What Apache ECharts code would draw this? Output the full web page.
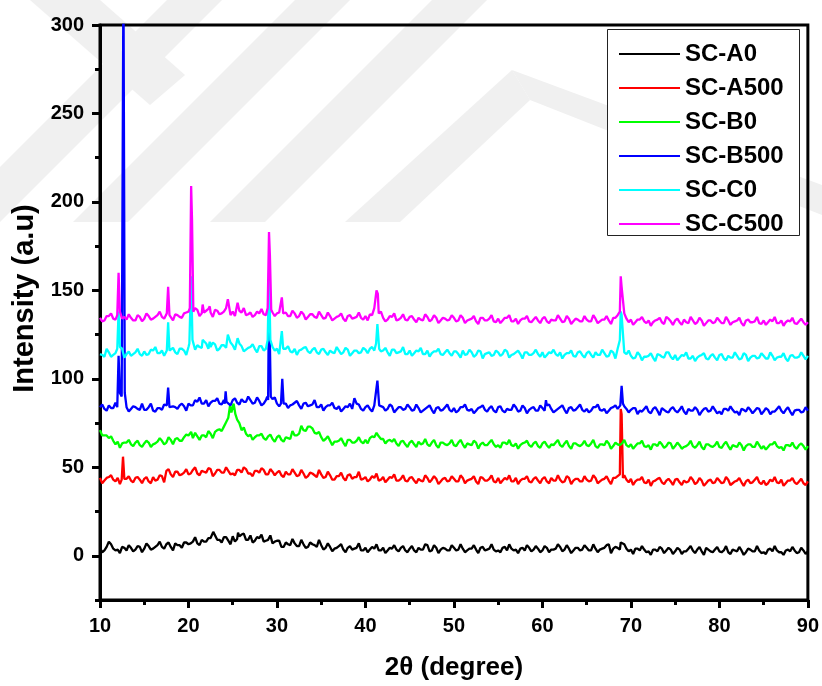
<!DOCTYPE html>
<html>
<head>
<meta charset="utf-8">
<script src="https://cdn.jsdelivr.net/npm/echarts@6/dist/echarts.min.js"></script>
<style>
  html, body { margin: 0; padding: 0; background: #ffffff; }
  #chart { width: 822px; height: 686px; }
</style>
</head>
<body>
<div id="chart"></div>
<script>
// 2θ sampling of the diffractograms (degrees): main grid 10, 10.5 … 90,
// intermediate grid 10.25, 10.75 … 89.75
const twoThetaStart = 10;
const twoThetaStep = 0.5;

// Axis ticks
const xTicks = [10, 20, 30, 40, 50, 60, 70, 80, 90];
const yTicks = [0, 50, 100, 150, 200, 250, 300];
const yMinorTicks = [-25, 25, 75, 125, 175, 225, 275];

const sampleNames = ['SC-A0', 'SC-A500', 'SC-B0', 'SC-B500', 'SC-C0', 'SC-C500'];
const sampleColors = ['#000000', '#ff0000', '#00ff00', '#0000ff', '#00ffff', '#ff00ff'];

// ---- SC-A0 ----
const scA0 = [
  4.5, 3, 8, 4, 3.5, 5, 3, 4.5, 3.5, 5,
  4, 5.5, 4, 6, 5, 6.5, 5, 7, 6, 7.5,
  6.5, 8, 7, 9, 8, 10, 12.5, 9, 10.5, 8.5,
  11, 9.5, 12, 9, 11.5, 8.5, 10, 8, 9, 7,
  8.5, 5, 7.5, 6, 7, 5.5, 6.5, 5, 6.5, 5,
  6, 4.5, 5, 4, 5.5, 3.5, 4.5, 3.5, 4.5, 3,
  4.5, 3.5, 4, 3, 4.5, 3, 4, 3.5, 4.5, 3,
  4, 3, 4.5, 3.5, 6, 3, 4.5, 3.5, 4, 3,
  4.5, 3.5, 4, 3, 4, 3.5, 4.5, 3, 4, 3.5,
  3, 4.5, 3, 4, 3.5, 4, 3, 4.5, 3.5, 4,
  3, 4.5, 3.5, 4, 5, 3.5, 4, 3, 4.5, 3.5,
  4.5, 3, 4, 3.5, 4.5, 6.5, 4, 4.5, 7, 4,
  3.5, 4, 3, 3.5, 2.5, 3.5, 2.5, 4, 3, 3.5,
  2.5, 3.5, 2.5, 4, 3, 3.5, 2.5, 4.5, 2.5, 3.5,
  2.5, 3, 2, 3.5, 2.5, 3, 2, 3.5, 2.5, 3,
  2, 3.5, 2.5, 3, 2, 3, 2.5, 3, 2, 3,
  2.5
];
const scA0Mid = [
  2, 5, 6.5, 3, 1.5, 4.5, 6, 2.5, 5.5, 2,
  7, 3.5, 5, 8, 4, 7.5, 3, 6, 4.5, 7.5,
  7, 10.5, 6, 8, 10, 5.5, 9, 7.5, 10.5, 6.5,
  8, 11, 12.5, 9, 7.5, 10.5, 12, 8.5, 11.5, 8,
  8.5, 5, 6.5, 9.5, 5.5, 9, 4.5, 7.5, 6, 9,
  3.5, 7, 2.5, 4.5, 6.5, 2, 5.5, 4, 7, 3,
  2, 5, 6.5, 3, 1.5, 4.5, 6, 2.5, 5.5, 2,
  5.5, 2, 3.5, 6.5, 2.5, 6, 1.5, 4.5, 3, 6,
  3, 6.5, 2, 4, 6, 1.5, 5, 3.5, 6.5, 2.5,
  2, 5, 6.5, 3, 1.5, 4.5, 6, 2.5, 5.5, 2,
  5.5, 2, 3.5, 6.5, 2.5, 6, 1.5, 4.5, 3, 6,
  3, 6.5, 2, 4, 6, 1.5, 5, 3.5, 6.5, 2.5,
  1, 4, 5.5, 2, 0.5, 3.5, 5, 1.5, 4.5, 1,
  4.5, 1, 2.5, 5.5, 1.5, 5, 0.5, 3.5, 2, 5,
  2, 5.5, 1, 3, 5, 0.5, 4, 2.5, 5.5, 1.5,
  1, 4, 5.5, 2, 0.5, 3.5, 5, 1.5, 4.5, 1
];
const scA0Peaks = [[22.8, 13.5], [25.6, 13], [68.85, 7.5]];

// ---- SC-A500 ----
const scA500 = [
  44, 42.5, 44.5, 43, 44, 42, 43.5, 42.5, 44, 43,
  43.5, 42, 44.5, 43, 45, 48, 46, 47.5, 45.5, 47,
  46, 48.5, 46.5, 48, 47, 49, 46.5, 48.5, 47, 48,
  46.5, 48.5, 47, 49, 46.5, 48, 47, 48.5, 46, 47.5,
  47, 45.5, 47.5, 46, 47, 45.5, 46.5, 45, 46.5, 44.5,
  46, 44.5, 45.5, 43, 45, 44, 45.5, 43.5, 44.5, 43,
  44.5, 43, 44, 42.5, 44.5, 43, 44, 42.5, 43.5, 42.5,
  44, 42.5, 43.5, 42, 44, 43, 43.5, 42, 44, 42.5,
  43.5, 42, 44, 42.5, 43.5, 42, 44.5, 42.5, 43.5, 42,
  44, 42.5, 43, 42, 44, 42.5, 43.5, 42, 43.5, 42.5,
  43.5, 42, 44, 42.5, 43, 42, 44, 42.5, 43.5, 42,
  43, 42.5, 44, 42, 43.5, 42.5, 44, 45, 44, 43,
  43.5, 42, 43, 41.5, 43, 42, 43.5, 41.5, 42.5, 42,
  43, 41.5, 42.5, 42, 43, 41.5, 42.5, 41, 43, 41.5,
  42.5, 41.5, 43, 41, 42.5, 41.5, 42, 41, 43, 41.5,
  42.5, 41, 42, 41.5, 43, 41, 42.5, 41.5, 42, 41,
  42
];
const scA500Mid = [
  41, 44, 45.5, 42, 40.5, 43.5, 45, 41.5, 44.5, 41,
  44.5, 41, 42.5, 45.5, 41.5, 49, 44.5, 47.5, 46, 49,
  46.5, 50, 45.5, 47.5, 49.5, 45, 48.5, 47, 50, 46,
  45.5, 48.5, 50, 46.5, 45, 48, 49.5, 46, 49, 45.5,
  48, 44.5, 46, 49, 45, 48.5, 44, 47, 45.5, 48.5,
  44, 47.5, 43, 45, 47, 42.5, 46, 44.5, 47.5, 43.5,
  42, 45, 46.5, 43, 41.5, 44.5, 46, 42.5, 45.5, 42,
  44.5, 41, 42.5, 45.5, 41.5, 45, 40.5, 43.5, 42, 45,
  42, 45.5, 41, 43, 45, 40.5, 44, 42.5, 45.5, 41.5,
  41, 44, 45.5, 42, 40.5, 43.5, 45, 41.5, 44.5, 41,
  44.5, 41, 42.5, 45.5, 41.5, 45, 40.5, 43.5, 42, 45,
  42, 45.5, 41, 43, 45, 40.5, 44, 42.5, 45.5, 41.5,
  40, 43, 44.5, 41, 39.5, 42.5, 44, 40.5, 43.5, 40,
  43.5, 40, 41.5, 44.5, 40.5, 44, 39.5, 42.5, 41, 44,
  41, 44.5, 40, 42, 44, 39.5, 43, 41.5, 44.5, 40.5,
  40, 43, 44.5, 41, 39.5, 42.5, 44, 40.5, 43.5, 40
];
const scA500Peaks = [[12.45, 43], [12.6, 56], [12.75, 43.5], [17.6, 49], [68.75, 46], [68.85, 83], [68.95, 80], [69.1, 44]];

// ---- SC-B0 ----
const scB0 = [
  71, 68, 66.5, 65, 64.5, 63.5, 64, 63, 64, 62.5,
  63.5, 64, 63, 64.5, 65, 64, 65.5, 66, 65, 67,
  68, 66.5, 67.5, 68, 67, 69, 70, 71.5, 73, 78,
  84, 77, 71, 69, 68.5, 67, 68, 66.5, 67.5, 66,
  67, 65.5, 67, 66, 68, 69, 71, 73, 72, 69,
  67, 66, 65, 64.5, 65, 64, 65.5, 64, 65, 64.5,
  65.5, 66.5, 67, 67.5, 66, 65, 64.5, 63.5, 64.5, 63,
  64, 63, 64.5, 63.5, 63, 64, 62.5, 64, 63, 63.5,
  62.5, 64, 63, 63.5, 62.5, 64, 63, 62.5, 64, 63,
  62.5, 64, 63, 62.5, 63.5, 62.5, 64, 62.5, 63.5, 62,
  63.5, 62.5, 63, 64, 62.5, 63.5, 62, 63.5, 62.5, 63,
  62.5, 63.5, 62, 63, 62.5, 63.5, 62, 63, 63.5, 62.5,
  63, 62, 63.5, 62, 62.5, 63, 62, 63, 62, 63.5,
  62, 62.5, 61.5, 63, 62, 62.5, 61.5, 63, 62, 62.5,
  61.5, 63, 62, 62.5, 61.5, 62.5, 62, 63, 61.5, 62.5,
  62, 61.5, 63, 62, 61.5, 62.5, 62, 61.5, 62.5, 62,
  62
];
const scB0Mid = [
  68, 68, 67.5, 63, 61, 64, 65.5, 62, 65, 61.5,
  65, 61.5, 63.5, 66.5, 63, 67, 63, 66.5, 65, 68.5,
  66, 69.5, 65.5, 68, 70.5, 66.5, 71, 70.5, 75.5, 82,
  78, 75, 72.5, 67.5, 65.5, 68, 69, 65.5, 68.5, 64.5,
  68, 64.5, 66.5, 70.5, 68, 73.5, 70.5, 73, 69.5, 70,
  65, 67.5, 62.5, 64.5, 66.5, 62, 65.5, 64, 67, 63.5,
  63.5, 67.5, 69.5, 66, 63.5, 65.5, 66, 62, 65, 61.5,
  65, 61.5, 63, 66, 62, 65.5, 61, 64, 62.5, 65.5,
  62, 65.5, 61, 63, 65, 60.5, 64, 62.5, 65.5, 61.5,
  61, 64, 65.5, 62, 60.5, 63.5, 65, 61.5, 64.5, 61,
  64.5, 61, 62.5, 65.5, 61.5, 65, 60.5, 63.5, 62, 65,
  62, 65.5, 61, 63, 65, 60.5, 64, 62.5, 65.5, 61.5,
  60.5, 63.5, 65, 61.5, 60, 63, 64.5, 61, 64, 60.5,
  64, 60.5, 62, 65, 61, 64.5, 60, 63, 61.5, 64.5,
  61, 64.5, 60, 62, 64, 59.5, 63, 61.5, 64.5, 60.5,
  60, 63, 64.5, 61, 59.5, 62.5, 64, 60.5, 63.5, 60
];
const scB0Peaks = [[20.3, 70], [24.7, 85], [24.85, 81], [25.1, 86], [25.3, 80]];

// ---- SC-B500 ----
const scB500 = [
  84, 83, 85, 83.5, 85, 86, 84, 83, 84, 82.5,
  82.5, 84, 82, 83.5, 82.5, 84, 85, 84, 85, 84.5,
  86, 85, 87, 86, 88, 86.5, 87.5, 86, 88, 87,
  88, 86.5, 88.5, 87, 88, 86.5, 87.5, 86, 88, 88.5,
  86, 85, 86, 85, 86.5, 85, 86, 84.5, 85.5, 84,
  85.5, 84, 85, 83.5, 84.5, 83, 84, 83, 86, 83,
  84, 83, 85, 82.5, 84, 83, 84.5, 82.5, 84, 83,
  84, 82.5, 83.5, 82, 84, 82.5, 83.5, 82, 84, 82.5,
  83.5, 82, 84, 82.5, 83, 82, 84, 82.5, 83.5, 82,
  84, 82, 83, 82.5, 84, 82, 83.5, 82.5, 84, 82,
  83.5, 85, 83, 82, 84, 82.5, 83.5, 82, 84, 82.5,
  83, 82, 84, 82.5, 83, 82, 84, 83, 84, 83,
  82.5, 83.5, 82, 83, 81.5, 83, 82, 83.5, 81.5, 83,
  82, 82.5, 81.5, 83, 82, 82.5, 81.5, 83.5, 82, 82.5,
  81.5, 83, 82, 82.5, 81.5, 83, 81.5, 82.5, 82, 83,
  81.5, 82.5, 81.5, 83, 82, 82.5, 81.5, 82, 82.5, 81.5,
  82
];
const scB500Mid = [
  85.5, 82, 83.5, 86.5, 82.5, 86, 81.5, 84.5, 83, 86,
  82.5, 86, 81.5, 83.5, 85.5, 81, 84.5, 83, 86, 82,
  85, 88, 89.5, 86, 84.5, 87.5, 89, 85.5, 88.5, 85,
  89, 85.5, 87, 90, 86, 89.5, 85, 88, 86.5, 89.5,
  84.5, 88, 83.5, 85.5, 87.5, 83, 86.5, 85, 88, 84,
  82, 85, 86.5, 83, 81.5, 84.5, 86, 82.5, 85.5, 82,
  85, 81.5, 83, 86, 82, 85.5, 81, 84, 82.5, 85.5,
  82, 85.5, 81, 83, 85, 80.5, 84, 82.5, 85.5, 81.5,
  81, 84, 85.5, 82, 80.5, 83.5, 85, 81.5, 84.5, 81,
  84.5, 81, 82.5, 85.5, 81.5, 85, 80.5, 83.5, 82, 85,
  82, 85.5, 81, 83, 85, 80.5, 84, 82.5, 85.5, 81.5,
  81, 84, 85.5, 82, 80.5, 83.5, 85, 81.5, 84.5, 81,
  83.5, 80, 81.5, 84.5, 80.5, 84, 79.5, 82.5, 81, 84,
  81, 84.5, 80, 82, 84, 79.5, 83, 81.5, 84.5, 80.5,
  80, 83, 84.5, 81, 79.5, 82.5, 84, 80.5, 83.5, 80,
  83.5, 80, 81.5, 84.5, 80.5, 84, 79.5, 82.5, 81, 84
];
const scB500Peaks = [
  [11.95, 84], [12.1, 113], [12.25, 92], [12.45, 90], [12.65, 330], [12.8, 92],
  [17.55, 85], [17.7, 95], [17.85, 84], [24.1, 86], [24.2, 93], [24.3, 87],
  [28.9, 90], [29.1, 150], [29.3, 90], [30.45, 86], [30.6, 100], [30.75, 86],
  [38.75, 89], [41.2, 86], [41.35, 99], [41.55, 85], [60.4, 88],
  [68.8, 85], [68.95, 96], [69.1, 86]
];

// ---- SC-C0 ----
const scC0 = [
  114, 112.5, 115, 113.5, 116, 117, 114, 113, 115, 114,
  115.5, 114, 116, 114.5, 116, 115, 116, 115, 117, 116,
  118, 117, 119, 117.5, 120, 118, 119.5, 117, 119, 118,
  119, 117, 118.5, 116.5, 118, 117, 118.5, 116, 117.5, 118,
  117, 116, 117, 115.5, 117, 116, 117.5, 115.5, 116.5, 115,
  116.5, 115, 116, 114.5, 116, 115, 116.5, 114.5, 116, 115,
  116.5, 117, 116, 114.5, 116, 115, 116.5, 114.5, 115.5, 114,
  116, 114.5, 115.5, 114, 116, 114.5, 115.5, 114, 115, 114.5,
  115.5, 114, 116, 114, 115, 113.5, 115.5, 114, 115, 113.5,
  115, 114, 115.5, 113.5, 115, 114, 115, 113.5, 114.5, 114,
  115, 113.5, 114.5, 114, 115, 113.5, 114.5, 113, 115, 113.5,
  114.5, 113.5, 115, 113.5, 114.5, 113, 115, 117, 125, 114,
  113, 112, 113.5, 112.5, 113, 112, 114, 112.5, 115, 112.5,
  113.5, 112, 113, 111.5, 113, 112, 113.5, 111.5, 113, 112,
  113.5, 111.5, 113, 112, 113, 111.5, 113.5, 112, 113, 112,
  113, 111.5, 113, 112, 112.5, 111.5, 113, 112, 112.5, 113,
  113
];
const scC0Mid = [
  113.5, 117, 112.5, 114.5, 116.5, 112, 115.5, 114, 117, 113,
  113.5, 116.5, 118, 114.5, 113, 116, 117.5, 114, 117, 113.5,
  120, 116.5, 118, 121, 117, 120.5, 116, 119, 117.5, 120.5,
  116.5, 120, 115.5, 117.5, 119.5, 115, 118.5, 117, 120, 116,
  114, 117, 118.5, 115, 113.5, 116.5, 118, 114.5, 117.5, 114,
  117, 113.5, 115, 118, 114, 117.5, 113, 116, 114.5, 117.5,
  114.5, 118, 113.5, 115.5, 117.5, 113, 116.5, 115, 118, 114,
  113, 116, 117.5, 114, 112.5, 115.5, 117, 113.5, 116.5, 113,
  115.5, 112, 113.5, 116.5, 112.5, 116, 111.5, 114.5, 113, 116,
  113, 116.5, 112, 114, 116, 111.5, 115, 113.5, 116.5, 112.5,
  112, 115, 116.5, 113, 111.5, 114.5, 116, 112.5, 115.5, 112,
  115.5, 112, 113.5, 116.5, 112.5, 116, 111.5, 122, 115, 116,
  111.5, 115, 110.5, 112.5, 114.5, 110, 113.5, 112, 115, 111,
  110.5, 113.5, 115, 111.5, 110, 113, 114.5, 111, 114, 110.5,
  114, 110.5, 112, 115, 111, 114.5, 110, 113, 111.5, 114.5,
  111.5, 115, 110.5, 112.5, 114.5, 110, 113.5, 112, 115, 111
];
const scC0Peaks = [
  [11.95, 117], [12.1, 138], [12.25, 118], [17.55, 116], [17.7, 132], [17.85, 116],
  [20.1, 120], [20.3, 158], [20.45, 122], [21.6, 122], [22.4, 121], [24.45, 125],
  [25.55, 123], [28.95, 122], [29.1, 160], [29.25, 122], [30.55, 127], [30.7, 117],
  [41.2, 120], [41.35, 131], [41.55, 117], [68.85, 138], [68.95, 136]
];

// ---- SC-C500 ----
const scC500 = [
  134.5, 133, 135.5, 134, 136, 134, 133.5, 134.5, 133, 135,
  134, 135.5, 134, 136, 135, 137, 135.5, 136.5, 135, 137,
  138, 137, 139, 137, 138.5, 137.5, 139, 136.5, 138, 137,
  138, 136.5, 137.5, 136, 137.5, 136, 137, 136.5, 138, 137.5,
  137, 136, 137.5, 135.5, 137, 135.5, 136.5, 135, 136.5, 134.5,
  136, 134.5, 135.5, 134, 135.5, 134, 135.5, 134, 135, 134.5,
  135.5, 136.5, 140, 137, 134.5, 133.5, 135, 133, 134.5, 133.5,
  135, 133.5, 134.5, 133, 135, 133.5, 134.5, 133, 134, 133.5,
  134.5, 133, 134.5, 133, 134, 132.5, 134.5, 133, 134, 132.5,
  134, 133, 134.5, 132.5, 134, 133, 134, 132.5, 133.5, 133,
  134, 132.5, 133.5, 133, 134, 132.5, 134, 132.5, 133.5, 132.5,
  133.5, 132.5, 134, 132.5, 133.5, 133, 134.5, 136, 145, 134,
  133.5, 132, 133.5, 132.5, 133, 132, 133.5, 132, 135, 132.5,
  133, 132, 133.5, 131.5, 133, 132, 133, 131.5, 133, 132,
  133, 131.5, 133, 132, 133, 131.5, 133, 132, 132.5, 131.5,
  133, 132, 132.5, 131.5, 133, 132, 132.5, 131.5, 132.5, 132,
  132
];
const scC500Mid = [
  132.5, 135.5, 137, 133.5, 132, 135, 136.5, 133, 136, 132.5,
  137, 133.5, 135, 138, 134, 137.5, 133, 136, 134.5, 137.5,
  136.5, 140, 135.5, 137.5, 139.5, 135, 138.5, 137, 140, 136,
  135.5, 138.5, 140, 136.5, 135, 138, 139.5, 136, 139, 135.5,
  137.5, 134, 135.5, 138.5, 134.5, 138, 133.5, 136.5, 135, 138,
  134, 137.5, 133, 135, 137, 132.5, 136, 134.5, 137.5, 133.5,
  133, 136, 138.5, 138, 132.5, 135.5, 137, 133.5, 136.5, 133,
  135.5, 132, 133.5, 136.5, 132.5, 136, 131.5, 134.5, 133, 136,
  132.5, 136, 131.5, 133.5, 135.5, 131, 134.5, 133, 136, 132,
  131.5, 134.5, 136, 132.5, 131, 134, 135.5, 132, 135, 131.5,
  135, 131.5, 133, 136, 132, 135.5, 131, 134, 132.5, 135.5,
  132.5, 136, 131.5, 133.5, 135.5, 131, 134.5, 138, 137, 132,
  130.5, 133.5, 135, 131.5, 130, 133, 134.5, 131, 134, 130.5,
  134, 130.5, 132, 135, 131, 134.5, 130, 133, 131.5, 134.5,
  131.5, 135, 130.5, 132.5, 134.5, 130, 133.5, 132, 135, 131,
  130.5, 133.5, 135, 131.5, 130, 133, 134.5, 131, 134, 130.5
];
const scC500Peaks = [
  [11.95, 136], [12.1, 160], [12.25, 138], [17.55, 137], [17.7, 152], [17.85, 136],
  [20.15, 140], [20.3, 209], [20.4, 190], [20.55, 138], [21.6, 142], [22.4, 141],
  [24.45, 145], [25.55, 143], [28.95, 140], [29.1, 183], [29.2, 170], [29.35, 139],
  [30.55, 146], [30.7, 137], [41.25, 150], [41.4, 148], [68.85, 158], [68.95, 152]
];

const gridValues = [scA0, scA500, scB0, scB500, scC0, scC500];
const midValues = [scA0Mid, scA500Mid, scB0Mid, scB500Mid, scC0Mid, scC500Mid];
const peakValues = [scA0Peaks, scA500Peaks, scB0Peaks, scB500Peaks, scC0Peaks, scC500Peaks];

// Merge both grids with the reflections into one sorted [2θ, I] list;
// a reflection replaces any grid sample lying right on it.
function buildPattern(values, mids, peaks) {
  const pts = [];
  values.forEach((v, i) => pts.push([twoThetaStart + i * twoThetaStep, v]));
  mids.forEach((v, i) => pts.push([twoThetaStart + twoThetaStep / 2 + i * twoThetaStep, v]));
  const kept = pts.filter(p => !peaks.some(q => Math.abs(q[0] - p[0]) < 0.08));
  return kept.concat(peaks).sort((a, b) => a[0] - b[0]);
}

const FONT = 'Arial, "Liberation Sans", Helvetica, sans-serif';
const chart = echarts.init(document.getElementById('chart'), null, { renderer: 'canvas' });

// Pale diagonal bands of the background emblem
const bandColor = '#f0f0f0';
const bands = [
  [[30, 0], [100, 0], [185, 75], [150, 105]],
  [[-55, 222], [0, 222], [222, 0], [167, 0]],
  [[73, 222], [128, 222], [350, 0], [295, 0]],
  [[210, 222], [265, 222], [487, 0], [432, 0]],
  [[345, 222], [400, 222], [530, 100], [512, 70]],
  [[512, 70], [530, 100], [822, 215], [822, 185]]
];

const series = sampleNames.map((name, k) => ({
  name: name,
  type: 'line',
  data: buildPattern(gridValues[k], midValues[k], peakValues[k]),
  symbol: 'none',
  showSymbol: false,
  animation: false,
  clip: true,
  lineStyle: { color: sampleColors[k], width: 2.3 },
  itemStyle: { color: sampleColors[k] },
  z: 3 + k
}));

chart.setOption({
  backgroundColor: '#ffffff',
  animation: false,
  graphic: bands.map(p => ({
    type: 'polygon', z: -10, silent: true,
    shape: { points: p },
    style: { fill: bandColor }
  })).concat([{
    type: 'rect', z: 20, silent: true,
    shape: { x: 607.5, y: 29.5, width: 192, height: 206 },
    style: { fill: '#ffffff', stroke: '#222', lineWidth: 1 }
  }]),
  grid: {
    left: 100, right: 14, top: 25, bottom: 86,
    show: true, borderColor: '#000', borderWidth: 3, backgroundColor: 'transparent'
  },
  legend: {
    data: sampleNames,
    orient: 'vertical',
    left: 614, top: 37,
    itemWidth: 61, itemHeight: 10, itemGap: 10,
    icon: 'path://M0,4 L61,4 L61,6 L0,6 Z',
    textStyle: { fontFamily: FONT, fontWeight: 'bold', fontSize: 24, color: '#000', lineHeight: 24, padding: [0, 0, 0, 0] },
    z: 21
  },
  xAxis: {
    type: 'value', min: 10, max: 90, interval: 10,
    name: '2θ (degree)', nameLocation: 'middle', nameGap: 55,
    nameTextStyle: { fontFamily: FONT, fontWeight: 'bold', fontSize: 26, color: '#000' },
    axisLine: { show: true, onZero: false, lineStyle: { color: '#000', width: 3 } },
    axisTick: { show: true, inside: false, length: 8, lineStyle: { color: '#000', width: 3 } },
    minorTick: { show: true, splitNumber: 2, length: 5, lineStyle: { color: '#000', width: 3 } },
    axisLabel: {
      margin: 16, fontFamily: FONT, fontWeight: 'bold', fontSize: 20, color: '#000',
      customValues: xTicks
    },
    splitLine: { show: false }
  },
  yAxis: [{
    type: 'value', min: -25, max: 300,
    name: 'Intensity (a.u)', nameLocation: 'middle', nameGap: 58,
    nameTextStyle: { fontFamily: FONT, fontWeight: 'bold', fontSize: 29, color: '#000', padding: [0, 0, 0, 28] },
    axisLine: { show: true, onZero: false, lineStyle: { color: '#000', width: 3 } },
    axisTick: { show: true, inside: false, length: 8, lineStyle: { color: '#000', width: 3 }, customValues: yTicks },
    axisLabel: {
      margin: 16, fontFamily: FONT, fontWeight: 'bold', fontSize: 20, color: '#000',
      customValues: yTicks
    },
    splitLine: { show: false }
  }, {
    type: 'value', min: -25, max: 300, position: 'left',
    axisLine: { show: false },
    axisTick: { show: true, inside: false, length: 5, lineStyle: { color: '#000', width: 3 }, customValues: yMinorTicks },
    axisLabel: { show: false },
    splitLine: { show: false }
  }],
  series: series
});
</script>
</body>
</html>
